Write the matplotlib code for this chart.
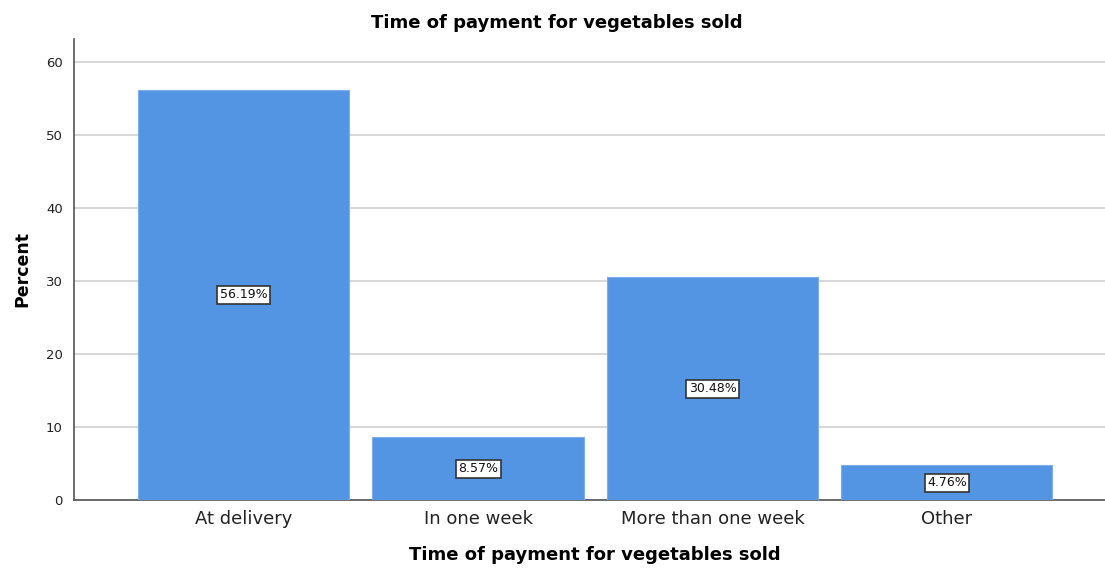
import matplotlib
matplotlib.use("Agg")
import matplotlib.pyplot as plt

categories = ["At delivery", "In one week", "More than one week", "Other"]
percents = [56.19, 8.57, 30.48, 4.76]
yticks = [0, 10, 20, 30, 40, 50, 60]

FONT = "DejaVu Sans"
fig = plt.figure(figsize=(11.05, 5.68), dpi=100)
ax = fig.add_axes([74/1105, 68/568, 1 - 74/1105, (500-39)/568])

x = list(range(len(categories)))
ax.bar(x, percents, width=0.9, color="#5495E3", edgecolor="#7DAEEA", linewidth=0.8, zorder=3)
for xi, v in zip(x, percents):
    ax.text(xi, v/2, f"{v:.2f}%", ha="center", va="center", fontsize=9,
            family=FONT, color="#111111", zorder=5,
            bbox=dict(boxstyle="square,pad=0.2", facecolor="white", edgecolor="#333333", linewidth=1.2))

ax.set_xlim(-0.723, 3.674)
ax.set_ylim(0, 63.15)
ax.set_yticks(yticks)
ax.set_xticks(x)
ax.set_xticklabels(categories, fontsize=13, family=FONT, color="#222222")
ax.tick_params(axis="y", length=0, labelsize=9.5, pad=8, labelcolor="#222222")
ax.tick_params(axis="x", length=0, pad=7)
for lab in ax.get_yticklabels():
    lab.set_family(FONT)
ax.grid(axis="y", color="#d4d4d4", linewidth=1.3, zorder=0)
ax.set_axisbelow(True)
for s in ["top", "right"]:
    ax.spines[s].set_visible(False)
ax.spines["left"].set_color("#555555")
ax.spines["bottom"].set_color("#555555")
ax.spines["left"].set_linewidth(1.2)
ax.spines["bottom"].set_linewidth(1.2)

fig.text(557/1105, 1 - 23/568, "Time of payment for vegetables sold", ha="center", va="center",
         fontsize=13, fontweight="bold", family=FONT)
fig.text(595/1105, 1 - 555/568, "Time of payment for vegetables sold", ha="center", va="center",
         fontsize=13, fontweight="bold", family=FONT)
fig.text(22/1105, 1 - 269/568, "Percent", ha="center", va="center", rotation=90,
         fontsize=12.5, fontweight="bold", family=FONT)

fig.savefig("out.png", dpi=100)
